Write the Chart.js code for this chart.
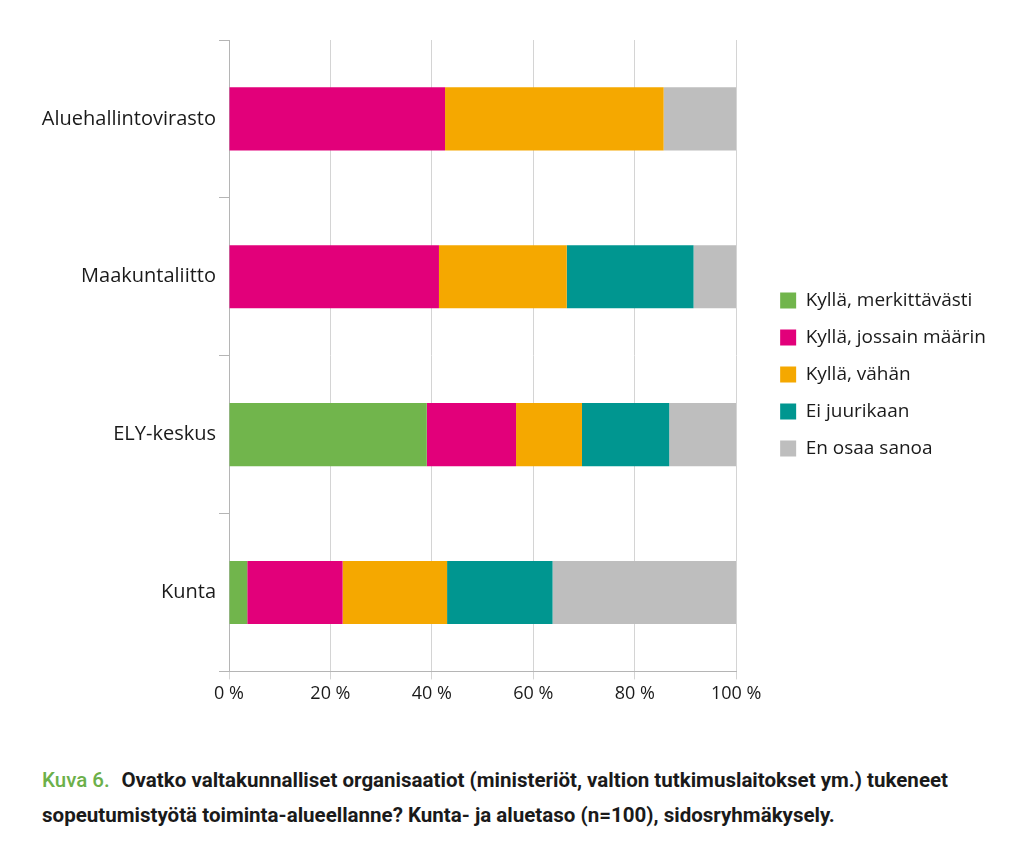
<!DOCTYPE html>
<html>
<head>
<meta charset="utf-8">
<script src="https://cdn.jsdelivr.net/npm/chart.js@4/dist/chart.umd.min.js"></script>
<style>
  html, body { margin: 0; padding: 0; background: #ffffff; }
  #wrap { position: relative; width: 1024px; height: 863px; overflow: hidden; }
  #chartBox { position: absolute; left: 0; top: 0; width: 1024px; height: 719px; }
  #caption { position: absolute; left: 42px; top: 763px;
    font-family: Roboto, "Liberation Sans", sans-serif;
    font-weight: bold; font-size: 21px; line-height: 35px; color: #1a1a1a; }
  #caption .line { display: block; white-space: nowrap; transform-origin: 0 50%; }
  #caption .k { color: #6cb04a; font-weight: 500; margin-right: 12px; }
</style>
</head>
<body>
<div id="wrap">
  <div id="chartBox"><canvas id="c"></canvas></div>
  <div id="caption">
    <span class="line" id="l1"><span class="k">Kuva 6.</span>Ovatko valtakunnalliset organisaatiot (ministeriöt, valtion tutkimuslaitokset ym.) tukeneet</span>
    <span class="line" id="l2">sopeutumistyötä toiminta-alueellanne? Kunta- ja aluetaso (n=100), sidosryhmäkysely.</span>
  </div>
</div>
<script>
const categories = ["Aluehallintovirasto", "Maakuntaliitto", "ELY-keskus", "Kunta"];
const seriesNames = ["Kyllä, merkittävästi", "Kyllä, jossain määrin", "Kyllä, vähän", "Ei juurikaan", "En osaa sanoa"];
const merkittavasti = [0, 0, 39.0, 3.6];
const jossainMaarin = [42.6, 41.4, 17.6, 18.8];
const vahan = [43.1, 25.2, 13.0, 20.6];
const eiJuurikaan = [0, 25.0, 17.2, 20.8];
const enOsaaSanoa = [14.3, 8.4, 13.2, 36.2];
const xTicks = [0, 20, 40, 60, 80, 100];
const colors = ["#71b54c", "#e2007a", "#f5a800", "#009690", "#bebebe"];

const seriesValues = [merkittavasti, jossainMaarin, vahan, eiJuurikaan, enOsaaSanoa];
const FONT = "'Open Sans', 'Noto Sans', sans-serif";

// shift legend to the right to leave a wider gap from the plot area
const legendShift = {
  id: 'legendShift',
  afterLayout(chart) {
    const lg = chart.legend;
    if (lg) { lg.left += 26; lg.right += 26; }
  }
};

new Chart(document.getElementById('c'), {
  type: 'bar',
  data: {
    labels: categories,
    datasets: seriesNames.map((n, i) => ({
      label: n,
      data: seriesValues[i],
      backgroundColor: colors[i],
      borderWidth: 0,
      barPercentage: 0.4,
      categoryPercentage: 1.0
    }))
  },
  plugins: [legendShift],
  options: {
    indexAxis: 'y',
    responsive: true,
    maintainAspectRatio: false,
    animation: false,
    layout: { padding: { top: 40, right: 54, bottom: 10, left: 0 } },
    plugins: {
      legend: {
        position: 'right',
        align: 'center',
        labels: {
          font: { family: FONT, size: 19 },
          color: '#1a1a1a',
          boxWidth: 16,
          boxHeight: 16,
          padding: 18
        }
      },
      tooltip: { enabled: false }
    },
    scales: {
      x: {
        stacked: true,
        min: 0, max: 100,
        afterBuildTicks: s => { s.ticks = xTicks.map(v => ({ value: v })); },
        ticks: {
          callback: v => v + ' %',
          font: { family: FONT, size: 18 },
          color: '#1a1a1a',
          padding: 4
        },
        grid: { color: '#d4d4d4', tickLength: 8, lineWidth: 1 },
        border: { display: true, color: '#b5b5b5' }
      },
      y: {
        stacked: true,
        afterFit: s => { s.width = 229; },
        ticks: {
          font: { family: FONT, size: 20 },
          color: '#1a1a1a',
          padding: 3
        },
        grid: { offset: true, drawOnChartArea: false, tickLength: 10, color: '#b5b5b5' },
        border: { display: true, color: '#b5b5b5' }
      }
    }
  }
});

// fit the caption lines to the condensed width of the original
(function () {
  const l1 = document.getElementById('l1'), l2 = document.getElementById('l2');
  l1.style.display = 'inline-block'; l2.style.display = 'inline-block';
  const a = l1.getBoundingClientRect().width;
  const f = 906 / a;
  l1.style.transform = 'scaleX(' + f + ')';
  l2.style.transform = 'scaleX(' + f + ')';
  l1.after(document.createElement('br'));
})();
</script>
</body>
</html>
